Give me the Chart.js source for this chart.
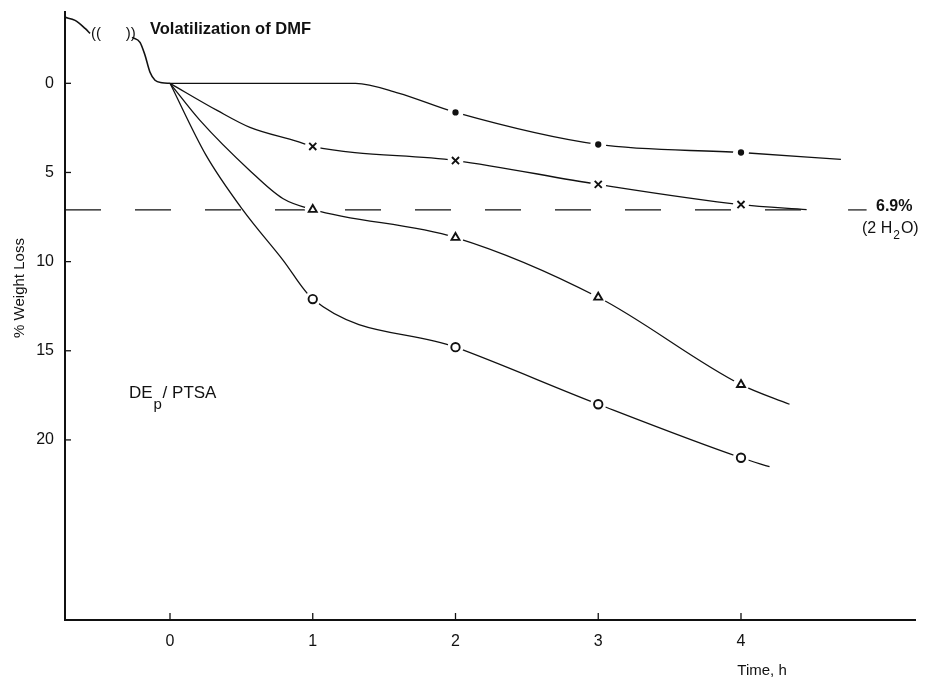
<!DOCTYPE html>
<html>
<head>
<meta charset="utf-8">
<script src="https://cdn.jsdelivr.net/npm/chart.js@4/dist/chart.umd.min.js"></script>
<style>
  body { margin: 0; background: #fff; }
  #wrap { width: 930px; height: 682px; }
</style>
</head>
<body>
<div id="wrap"><canvas id="tga"></canvas></div>
<script>
// axis ticks
var xTicks = [0, 1, 2, 3, 4];
var xTickLabels = ['0', '1', '2', '3', '4'];
var yTicks = [0, 5, 10, 15, 20];
var yTickLabels = ['0', '5', '10', '15', '20'];

// measured points, time in h
var hours = [1, 2, 3, 4];
var dotHours = [2, 3, 4];
var dotLoss = [1.63, 3.43, 3.88];
var crossLoss = [3.54, 4.33, 5.67, 6.8];
var triLoss = [7.08, 8.65, 12.0, 16.9];
var circLoss = [12.1, 14.8, 18.0, 21.0];

// drawn curves [time, loss]
var dmfCurve = [[-0.736, -3.7], [-0.665, -3.53], [-0.595, -3.08], [-0.56, -2.8], [-0.4, null],
                [-0.266, -2.58], [-0.21, -2.3], [-0.175, -1.57], [-0.14, -0.62], [-0.105, -0.17], [-0.056, -0.03], [0, 0]];
var dotCurve = [[0, 0], [1.3, 0], [1.6, 0.55], [2, 1.63], [3, 3.43], [4, 3.88], [4.7, 4.27]];
var crossCurve = [[0, 0], [0.33, 1.52], [0.56, 2.47], [0.89, 3.25], [1, 3.54], [2, 4.33], [3, 5.67], [4, 6.8], [4.46, 7.08]];
var triCurve = [[0, 0], [0.21, 2.08], [0.56, 4.9], [0.79, 6.46], [1, 7.08], [2, 8.65], [3, 12.0], [4, 16.9], [4.34, 18.0]];
var circCurve = [[0, 0], [0.25, 4.0], [0.51, 7.1], [0.79, 9.9], [1, 12.1], [2, 14.8], [3, 18.0], [4, 21.0], [4.2, 21.5]];

// 2 H2O level
var waterLevel = 7.1;
var waterSpan = [-0.7356, 4.47];
var waterStub = [4.75, 4.88];

var xMin = -0.7356, xMax = 5.219;
var yMin = -4.0, yMax = 30.1;

function pts(arr) {
    return arr.map(function (p) { return { x: p[0], y: p[1] }; });
}
function marks(xs, ys) {
    return xs.map(function (x, i) { return { x: x, y: ys[i] }; });
}

function curve(arr, extra) {
    var d = {
        type: 'line',
        data: pts(arr),
        borderColor: '#111',
        borderWidth: 1.3,
        pointRadius: 0,
        cubicInterpolationMode: 'monotone',
        spanGaps: false,
        order: 3
    };
    for (var k in extra) d[k] = extra[k];
    return d;
}

function marker(data, style, r, fill) {
    return {
        type: 'line',
        data: data,
        showLine: false,
        pointStyle: style,
        pointRadius: r,
        pointBorderWidth: 1.9,
        pointBorderColor: '#111',
        pointBackgroundColor: fill,
        order: 1
    };
}

var allMarks = marks(dotHours, dotLoss)
    .concat(marks(hours, crossLoss))
    .concat(marks(hours, triLoss))
    .concat(marks(hours, circLoss));

var datasets = [
    curve(dmfCurve, { borderWidth: 1.6 }),
    curve(dotCurve),
    curve(crossCurve),
    curve(triCurve),
    curve(circCurve),
    curve([[waterSpan[0], waterLevel], [waterSpan[1], waterLevel]], { borderDash: [36, 34], borderWidth: 1.2 }),
    curve([[waterStub[0], waterLevel], [waterStub[1], waterLevel]], { borderWidth: 1.2 }),
    {
        type: 'line', data: allMarks, showLine: false, pointStyle: 'circle',
        pointRadius: 8, pointBorderWidth: 0, pointBackgroundColor: '#fff', order: 2
    },
    marker(marks(dotHours, dotLoss), 'circle', 2.2, '#111'),
    marker(marks(hours, crossLoss), 'crossRot', 5, '#fff'),
    marker(marks(hours, triLoss), 'triangle', 4.6, '#fff'),
    marker(marks(hours, circLoss), 'circle', 4.2, '#fff')
];

var FONT = '"Liberation Sans", Arial, Helvetica, sans-serif';

var textPlugin = {
    id: 'texts',
    afterDraw: function (chart) {
        var ctx = chart.ctx;
        var xs = chart.scales.x, ys = chart.scales.y;
        var area = chart.chartArea;
        ctx.save();
        ctx.fillStyle = '#111';
        ctx.strokeStyle = '#111';

        // inward tick marks
        ctx.lineWidth = 1.3;
        yTicks.forEach(function (v) {
            var py = ys.getPixelForValue(v);
            ctx.beginPath(); ctx.moveTo(area.left, py); ctx.lineTo(area.left + 6, py); ctx.stroke();
        });
        xTicks.forEach(function (v) {
            var px = xs.getPixelForValue(v);
            ctx.beginPath(); ctx.moveTo(px, area.bottom); ctx.lineTo(px, area.bottom - 7); ctx.stroke();
        });

        ctx.textBaseline = 'middle';
        ctx.textAlign = 'left';
        ctx.font = '15px ' + FONT;
        ctx.fillText('((', xs.getPixelForValue(-0.56) + 1, ys.getPixelForValue(-2.8));
        ctx.fillText('))', xs.getPixelForValue(-0.31), ys.getPixelForValue(-2.8));

        ctx.font = 'bold 16.5px ' + FONT;
        ctx.fillText('Volatilization of DMF', 150, 29);

        ctx.font = 'bold 16px ' + FONT;
        ctx.fillText('6.9%', 876, 207);
        ctx.font = '16px ' + FONT;
        var x0 = 862;
        ctx.fillText('(2 H', x0, 229);
        var w = ctx.measureText('(2 H').width;
        ctx.font = '12px ' + FONT;
        ctx.fillText('2', x0 + w + 1, 236);
        var w2 = ctx.measureText('2').width;
        ctx.font = '16px ' + FONT;
        ctx.fillText('O)', x0 + w + w2 + 2, 229);

        ctx.font = '17px ' + FONT;
        ctx.fillText('DE', 129, 393);
        var wd = ctx.measureText('DE').width;
        ctx.font = '15px ' + FONT;
        ctx.fillText('p', 129 + wd + 1, 405);
        ctx.font = '17px ' + FONT;
        ctx.fillText('/ PTSA', 129 + wd + 10, 393);

        ctx.font = '15px ' + FONT;
        ctx.textAlign = 'center';
        ctx.fillText('Time, h', 762, 671);

        ctx.translate(20, 288);
        ctx.rotate(-Math.PI / 2);
        ctx.fillText('% Weight Loss', 0, 0);
        ctx.restore();
    }
};

var config = {
    type: 'line',
    data: { datasets: datasets },
    options: {
        responsive: true,
        maintainAspectRatio: false,
        animation: false,
        events: [],
        layout: { padding: { top: 12, right: 15, left: 0, bottom: 0 } },
        plugins: { legend: { display: false }, tooltip: { enabled: false } },
        scales: {
            x: {
                type: 'linear',
                min: xMin, max: xMax,
                afterBuildTicks: function (s) { s.ticks = xTicks.map(function (v) { return { value: v }; }); },
                afterFit: function (s) { s.height = 62; s.paddingLeft = 0; s.paddingRight = 0; },
                grid: { display: false, drawTicks: false },
                border: { display: true, color: '#111', width: 2 },
                ticks: {
                    padding: 12, color: '#111', font: { family: FONT, size: 16 },
                    autoSkip: false, maxRotation: 0,
                    callback: function (v) { return xTickLabels[xTicks.indexOf(v)]; }
                }
            },
            y: {
                type: 'linear',
                reverse: true,
                min: yMin, max: yMax,
                afterBuildTicks: function (s) { s.ticks = yTicks.map(function (v) { return { value: v }; }); },
                afterFit: function (s) { s.width = 65; s.paddingTop = 0; s.paddingBottom = 0; },
                grid: { display: false, drawTicks: false },
                border: { display: true, color: '#111', width: 2 },
                ticks: {
                    padding: 11, color: '#111', font: { family: FONT, size: 16 },
                    autoSkip: false,
                    callback: function (v) { return yTickLabels[yTicks.indexOf(v)]; }
                }
            }
        }
    },
    plugins: [textPlugin]
};

var tgaChart = new Chart(document.getElementById('tga'), config);
</script>
</body>
</html>
